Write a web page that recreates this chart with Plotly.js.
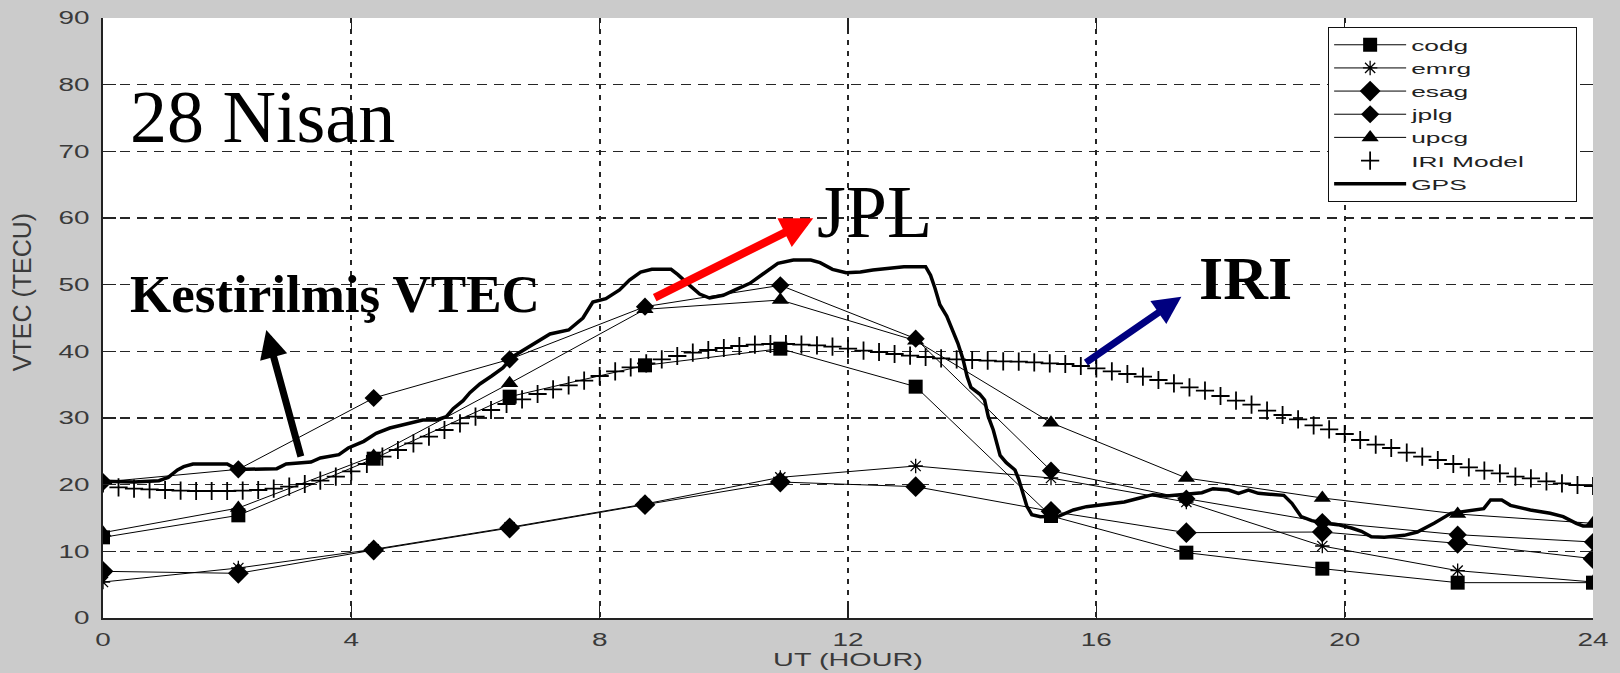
<!DOCTYPE html>
<html>
<head>
<meta charset="utf-8">
<script src="https://cdn.plot.ly/plotly-3.0.1.min.js"></script>
<style>
  html, body { margin: 0; padding: 0; background: #cbcbcb; }
  #chart { width: 1620px; height: 673px; }
  /* legend lettering is set in a wide face, stretched from its left edge */
  #chart g.legend text.legendtext {
    transform-box: fill-box;
    transform-origin: 0% 50%;
    transform: scaleX(1.7);
  }
  #chart g.legend rect.bg { width: 248px; }
  clipPath[id^="legend"] rect { width: 400px; }
</style>
</head>
<body>
<div id="chart"></div>
<script>
// Hours at which the ionosphere map products are sampled
const modelHours = [0, 2.18, 4.36, 6.55, 8.73, 10.91, 13.09, 15.27, 17.45, 19.64, 21.82, 24];

// VTEC (TECU) from each analysis centre
const codg = [12.1, 15.4, 23.9, 33.2, 37.9, 40.4, 34.7, 15.3, 9.8, 7.4, 5.3, 5.3];
const emrg = [5.4, 7.5, 10.3, 13.6, 17.1, 21.1, 22.8, 21.0, 17.4, 10.8, 7.1, 5.4];
const esag = [7.0, 6.7, 10.2, 13.5, 17.0, 20.4, 19.7, 16.0, 12.8, 12.9, 11.2, 8.9];
const jplg = [20.4, 22.3, 33.0, 38.8, 46.7, 49.9, 41.9, 22.1, 17.9, 14.4, 12.5, 11.4];
const upcg = [12.8, 16.5, 24.3, 35.2, 46.3, 47.7, 41.6, 29.3, 21.0, 18.0, 15.6, 14.2];

// IRI model VTEC, one value every 15 minutes from 00:00 to 24:00 UT
const iriVtec = [
  20.2, 19.6, 19.4, 19.3,
  19.2, 19.1, 19.05, 19.05,
  19.05, 19.1, 19.2, 19.4,
  19.7, 20.1, 20.6, 21.2,
  22.0, 23.1, 24.2, 25.2,
  26.2, 27.2, 28.2, 29.2,
  30.2, 31.2, 32.1, 32.8,
  33.6, 34.3, 34.9, 35.6,
  36.3, 37.0, 37.6, 38.2,
  38.8, 39.3, 39.8, 40.2,
  40.5, 40.8, 41.0, 41.1,
  41.1, 41.0, 40.9, 40.7,
  40.4, 40.1, 39.9, 39.6,
  39.35, 39.15, 38.95, 38.8,
  38.7, 38.6, 38.5, 38.45,
  38.35, 38.2, 38.1, 37.8,
  37.45, 37.0, 36.6, 36.2,
  35.7, 35.2, 34.6, 34.1,
  33.3, 32.6, 32.0, 31.1,
  30.45, 29.8, 28.9, 28.3,
  27.6, 26.7, 26.0, 25.5,
  24.8, 24.2, 23.7, 23.1,
  22.6, 22.1, 21.7, 21.2,
  20.95, 20.5, 20.2, 19.95,
  19.8
];
const iriStep = 0.25;
const iriHours = iriVtec.map((_, i) => i * iriStep);

// VTEC derived from the GPS receiver
const gpsHours = [
  0, 0.5, 0.9, 1.05, 1.2, 1.3, 1.45, 2.0, 2.12, 2.3,
  2.8, 2.95, 3.35, 3.5, 3.8, 3.95, 4.2, 4.4, 4.62, 4.95,
  5.15, 5.37, 5.53, 5.64, 5.8, 5.91, 6.07, 6.26, 6.44, 6.6,
  6.82, 7.03, 7.2, 7.5, 7.73, 7.89, 8.1, 8.32, 8.48, 8.66,
  8.84, 9.15, 9.26, 9.45, 9.61, 9.77, 9.99, 10.2, 10.42, 10.63,
  10.87, 11.12, 11.4, 11.55, 11.75, 11.97, 12.2, 12.4, 12.6, 12.9,
  13.25, 13.33, 13.4, 13.48, 13.59, 13.69, 13.77, 13.85, 13.92, 13.98,
  14.12, 14.2, 14.26, 14.34, 14.4, 14.45, 14.55, 14.69, 14.75, 14.82,
  14.88, 14.96, 15.1, 15.4, 15.63, 15.84, 16.1, 16.45, 16.7, 16.91,
  17.13, 17.4, 17.7, 17.88, 18.13, 18.29, 18.45, 18.61, 18.85, 19.02,
  19.15, 19.3, 19.47, 19.68, 19.89, 20.11, 20.27, 20.43, 20.64, 20.96,
  21.17, 21.44, 21.71, 22.03, 22.24, 22.35, 22.53, 22.67, 22.99, 23.31,
  23.52, 23.73, 23.84, 24.0
];
const gpsVtec = [
  20.5, 20.4, 20.6, 21.1, 22.2, 22.7, 23.1, 23.1, 22.5, 22.3,
  22.4, 23.1, 23.4, 24.0, 24.5, 25.5, 26.5, 27.7, 28.5, 29.3,
  29.7, 29.7, 30.2, 31.4, 32.6, 33.8, 35.1, 36.3, 37.5, 39.2,
  40.5, 41.6, 42.6, 43.2, 45.0, 47.4, 47.9, 49.2, 50.7, 51.9,
  52.3, 52.3, 51.5, 49.9, 48.6, 48.0, 48.4, 49.3, 50.2, 51.6,
  53.2, 53.7, 53.7, 53.3, 52.3, 51.8, 51.9, 52.2, 52.4, 52.7,
  52.7, 51.4, 49.5, 47.0, 45.3, 43.2, 41.2, 38.9, 36.2, 34.6,
  33.6, 32.7, 30.2, 28.2, 26.2, 24.4, 23.3, 22.2, 20.8, 18.8,
  16.8, 15.5, 15.2, 15.3, 16.2, 16.7, 17.0, 17.4, 18.0, 18.5,
  18.3, 18.5, 18.8, 19.4, 19.2, 18.7, 19.2, 18.7, 18.6, 18.4,
  17.2, 15.2, 14.6, 14.2, 14.0, 13.5, 13.0, 12.2, 12.1, 12.4,
  12.9, 14.2, 15.7, 16.2, 16.4, 17.7, 17.7, 16.9, 16.2, 15.7,
  15.2, 14.2, 13.8, 13.8
];

const seriesNames = ['codg', 'emrg', 'esag', 'jplg', 'upcg', 'IRI Model', 'GPS'];
const axisTitles = { x: 'UT (HOUR)', y: 'VTEC (TECU)' };
const labels = { day: '28 Nisan', jpl: 'JPL', iri: 'IRI', estimate: 'Kestirilmiş VTEC' };

const thin = { color: '#000', width: 1 };

const traces = [
  { name: seriesNames[0], x: modelHours, y: codg, mode: 'lines+markers', line: thin,
    marker: { symbol: 'square', size: 14, color: '#000' } },
  { name: seriesNames[1], x: modelHours, y: emrg, mode: 'lines+markers', line: thin,
    marker: { symbol: 'asterisk-open', size: 12, color: '#000', line: { color: '#000', width: 1.3 } } },
  { name: seriesNames[2], x: modelHours, y: esag, mode: 'lines+markers', line: thin,
    marker: { symbol: 'diamond', size: 16, color: '#000' } },
  { name: seriesNames[3], x: modelHours, y: jplg, mode: 'lines+markers', line: thin,
    marker: { symbol: 'diamond', size: 14, color: '#000' } },
  { name: seriesNames[4], x: modelHours, y: upcg, mode: 'lines+markers', line: thin,
    marker: { symbol: 'triangle-up', size: 15, color: '#000' } },
  { name: seriesNames[5], x: iriHours, y: iriVtec, mode: 'markers',
    marker: { symbol: 'cross-thin-open', size: 13, color: '#000', line: { color: '#000', width: 1.8 } } },
  { name: seriesNames[6], x: gpsHours, y: gpsVtec, mode: 'lines',
    line: { color: '#000', width: 3.5 } },
  // empty trace that carries the mirrored tick marks on the top and right edges
  { x: [], y: [], xaxis: 'x2', yaxis: 'y2', showlegend: false, hoverinfo: 'skip' }
];

const tickFont = { family: 'Liberation Sans, Arial, sans-serif', size: 18, color: '#3a3a3a' };
const gridColor = '#262626';

const layout = {
  width: 1620,
  height: 673,
  paper_bgcolor: '#cbcbcb',
  plot_bgcolor: '#ffffff',
  margin: { l: 103, r: 27, t: 18, b: 55 },
  showlegend: true,
  legend: {
    x: 0.8221, xanchor: 'left', y: 0.985, yanchor: 'top',
    bgcolor: '#ffffff', bordercolor: '#111', borderwidth: 1.2,
    font: { family: 'Liberation Sans, Arial, sans-serif', size: 15.5, color: '#222' },
    itemwidth: 72, tracegroupgap: 0
  },
  xaxis: {
    range: [0, 24], tick0: 0, dtick: 4,
    ticks: 'inside', ticklen: 14, tickwidth: 1.5, tickcolor: '#222',
    showline: true, linecolor: '#222', linewidth: 2,
    showgrid: true, gridcolor: gridColor, gridwidth: 1.8, griddash: '5px,6px',
    zeroline: false, tickfont: tickFont, ticklabelstandoff: 4,
    title: { text: axisTitles.x, font: tickFont, standoff: 2 }
  },
  yaxis: {
    range: [0, 90], tick0: 0, dtick: 10,
    ticks: 'inside', ticklen: 13, tickwidth: 1.5, tickcolor: '#222',
    showline: true, linecolor: '#222', linewidth: 2,
    showgrid: true, gridcolor: gridColor, gridwidth: 1.5, griddash: '10px,7px',
    zeroline: false, tickfont: tickFont, ticklabelstandoff: 8
  },
  xaxis2: {
    overlaying: 'x', side: 'top', anchor: 'y', range: [0, 24], tick0: 0, dtick: 4,
    ticks: 'inside', ticklen: 12, tickwidth: 1.5, tickcolor: '#222',
    showticklabels: false, showgrid: false, showline: false, zeroline: false
  },
  yaxis2: {
    overlaying: 'y', side: 'right', anchor: 'x', range: [0, 90], tick0: 0, dtick: 10,
    ticks: 'inside', ticklen: 13, tickwidth: 1.5, tickcolor: '#222',
    showticklabels: false, showgrid: false, showline: false, zeroline: false
  },
  annotations: [
    // y-axis title, set slightly above the middle of the axis
    { text: axisTitles.y, xref: 'paper', yref: 'paper', x: -0.0544, y: 0.543, textangle: -90,
      xanchor: 'center', yanchor: 'middle', showarrow: false,
      font: { family: 'Liberation Sans, Arial, sans-serif', size: 25, color: '#3a3a3a' } },
    { text: labels.day, x: 0.4, y: 75.1, xanchor: 'left', yanchor: 'middle', showarrow: false,
      font: { family: 'Liberation Serif, Times New Roman, serif', size: 74, color: '#000' } },
    { text: labels.jpl, x: 12.43, y: 60.9, xanchor: 'center', yanchor: 'middle', showarrow: false,
      font: { family: 'Liberation Serif, Times New Roman, serif', size: 74, color: '#000' } },
    { text: '<b>' + labels.iri + '</b>', x: 18.41, y: 51.0, xanchor: 'center', yanchor: 'middle', showarrow: false,
      font: { family: 'Liberation Serif, Times New Roman, serif', size: 62, color: '#000' } },
    { text: '<b>' + labels.estimate + '</b>', x: 3.73, y: 48.6, xanchor: 'center', yanchor: 'middle', showarrow: false,
      font: { family: 'Liberation Serif, Times New Roman, serif', size: 53, color: '#000' } },
    // pointer arrows
    { text: '', x: 11.44, y: 59.95, ax: -160, ay: 80, showarrow: true, arrowhead: 2, arrowsize: 0.8,
      arrowwidth: 8, arrowcolor: '#ff0000', standoff: 0, startstandoff: 0 },
    { text: '', x: 17.37, y: 48.2, ax: -97, ay: 67, showarrow: true, arrowhead: 2, arrowsize: 0.8,
      arrowwidth: 7, arrowcolor: '#000080', standoff: 0, startstandoff: 0 },
    { text: '', x: 2.63, y: 43.2, ax: 35, ay: 128, showarrow: true, arrowhead: 2, arrowsize: 0.8,
      arrowwidth: 7, arrowcolor: '#000000', standoff: 0, startstandoff: 0 }
  ]
};

// Tick labels and the x title are widened the same way, through the text length.
function widen(selector, factor) {
  document.querySelectorAll(selector).forEach(t => {
    t.removeAttribute('textLength');
    t.removeAttribute('lengthAdjust');
    const w = t.getComputedTextLength();
    if (w > 0) {
      t.setAttribute('textLength', (w * factor).toFixed(1));
      t.setAttribute('lengthAdjust', 'spacingAndGlyphs');
    }
  });
}

function stretchLettering() {
  widen('#chart .xtick text', 1.55);
  widen('#chart .ytick text', 1.55);
  widen('#chart .g-xtitle text', 1.6);
}

const gd = document.getElementById('chart');
Plotly.newPlot(gd, traces, layout, { staticPlot: true, displayModeBar: false }).then(() => {
  stretchLettering();
  gd.on('plotly_afterplot', stretchLettering);
});
</script>
</body>
</html>
